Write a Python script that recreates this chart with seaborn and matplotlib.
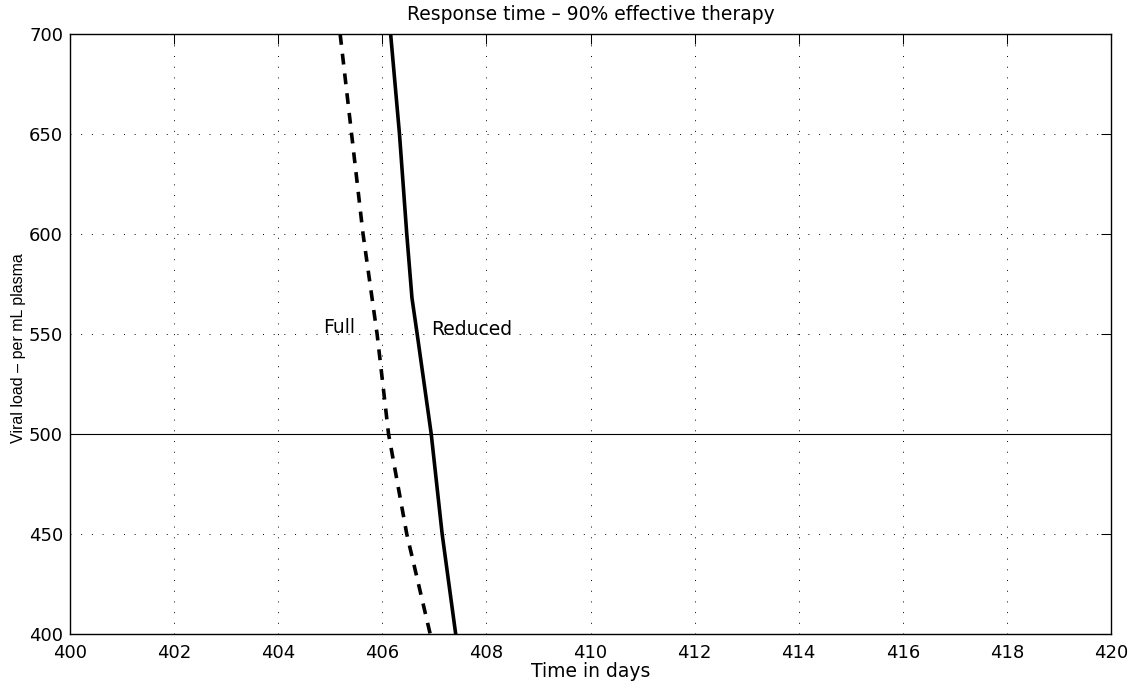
import matplotlib
matplotlib.use("Agg")
import matplotlib.pyplot as plt
import seaborn as sns
import pandas as pd

# Data
full_days = [405.19, 405.41, 405.63, 405.90, 406.12, 406.47, 406.92]
full_load = [700, 650, 600, 550, 500, 450, 400]
reduced_days = [406.16, 406.33, 406.47, 406.57, 406.67, 406.94, 407.15, 407.41]
reduced_load = [700, 650, 600, 568, 550, 500, 450, 400]
x_ticks = [400, 402, 404, 406, 408, 410, 412, 414, 416, 418, 420]
y_ticks = [400, 450, 500, 550, 600, 650, 700]
threshold = 500

sns.set_theme(style="white")
plt.rcParams["font.family"] = ["DejaVu Sans"]
plt.rcParams["text.color"] = "black"
plt.rcParams["axes.labelcolor"] = "black"
plt.rcParams["xtick.color"] = "black"
plt.rcParams["ytick.color"] = "black"

W, H = 1141, 681
fig = plt.figure(figsize=(W / 100, H / 100), dpi=100)
ax = fig.add_axes([70 / W, 47 / H, 1041 / W, 600 / H])

df_full = pd.DataFrame({"day": full_days, "load": full_load})
df_red = pd.DataFrame({"day": reduced_days, "load": reduced_load})

sns.lineplot(data=df_full, x="day", y="load", sort=False, estimator=None,
             color="black", lw=2.6, linestyle=(0, (3.0, 2.5)), ax=ax)
sns.lineplot(data=df_red, x="day", y="load", sort=False, estimator=None,
             color="black", lw=2.6, ax=ax)
ax.axhline(threshold, color="black", lw=0.8, zorder=1)

ax.set_xlim(400, 420)
ax.set_ylim(400, 700)
ax.set_xticks(x_ticks)
ax.set_yticks(y_ticks)
ax.grid(True, linestyle=(0, (1, 10)), linewidth=0.7, color="black")
ax.tick_params(direction="in", length=7.5, width=0.75, top=True, right=True,
               labelsize=13, colors="black")
ax.tick_params(axis="x", pad=7)
ax.tick_params(axis="y", pad=5)
for s in ax.spines.values():
    s.set_linewidth(1.0)
    s.set_color("black")

ax.text(404.86, 550.5, "Full", fontsize=13.5, va="baseline", ha="left")
ax.text(406.94, 549.5, "Reduced", fontsize=13.5, va="baseline", ha="left")

ax.set_title("Response time – 90% effective therapy", fontsize=13.5, pad=10)
ax.set_xlabel("Time in days", fontsize=13.5, labelpad=0)
ax.set_ylabel("Viral load – per mL plasma", fontsize=11.5,
              fontfamily="Liberation Sans")
ax.yaxis.label.set_va("center")
ax.yaxis.set_label_coords(-0.049, 0.477)

fig.savefig("out.png", dpi=100)
